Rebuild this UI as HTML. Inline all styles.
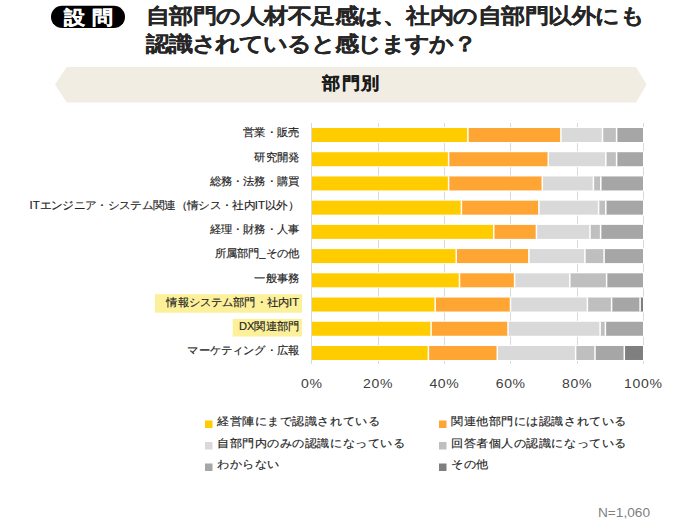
<!DOCTYPE html>
<html><head><meta charset="utf-8">
<style>
html,body{margin:0;padding:0;background:#fff;}
body{width:700px;height:525px;overflow:hidden;position:relative;font-family:"Liberation Sans",sans-serif;}
svg{position:absolute;left:0;top:0;}
.lbl{font-size:10.8px;fill:#222;stroke:#222;stroke-width:0.15px;}
.ax{font-size:13px;fill:#404040;}
.lg{font-size:11.5px;fill:#222;stroke:#222;stroke-width:0.15px;}
</style></head><body>
<svg width="700" height="525" viewBox="0 0 700 525" font-family="'Liberation Sans', sans-serif">
<rect x="51" y="5.7" width="74" height="22.4" rx="11.2" fill="#000"/>
<text transform="translate(64,24.3) scale(1.1,1)" font-size="19" font-weight="bold" fill="#fff" stroke="#fff" stroke-width="0.3" letter-spacing="6">設問</text>
<text transform="translate(146,23.0) scale(1.15,1)" font-size="20.5" font-weight="bold" fill="#262626" stroke="#262626" stroke-width="0.15" letter-spacing="0">自部門の人材不足感は、社内の自部門以外にも</text>
<text transform="translate(146,50.8) scale(1.15,1)" font-size="20.5" font-weight="bold" fill="#262626" stroke="#262626" stroke-width="0.15" letter-spacing="-0.6">認識されていると感じますか？</text>
<polygon points="55,84.5 66.6,67 636,67 646.6,84.5 636,102.5 66.6,102.5" fill="#f1ede3"/>
<text transform="translate(351.6,88.8) scale(1.07,1)" text-anchor="middle" font-size="17" font-weight="bold" fill="#1a1a1a" stroke="#1a1a1a" stroke-width="0.15" letter-spacing="1">部門別</text>
<line x1="378.5" y1="123" x2="378.5" y2="364" stroke="#d9d9d9" stroke-width="1"/>
<line x1="444.5" y1="123" x2="444.5" y2="364" stroke="#d9d9d9" stroke-width="1"/>
<line x1="510.5" y1="123" x2="510.5" y2="364" stroke="#d9d9d9" stroke-width="1"/>
<line x1="577.5" y1="123" x2="577.5" y2="364" stroke="#d9d9d9" stroke-width="1"/>
<line x1="643.5" y1="123" x2="643.5" y2="364" stroke="#d9d9d9" stroke-width="1"/>
<line x1="311.5" y1="123" x2="311.5" y2="364" stroke="#d9d9d9" stroke-width="1"/>
<rect x="155" y="294.2" width="147" height="18.5" fill="#fdf09b"/>
<rect x="232.7" y="318.9" width="69.3" height="17.6" fill="#fdf09b"/>
<rect x="312" y="127.00" width="332.5" height="16.0" fill="#fff"/>
<rect x="312.00" y="128.00" width="155.90" height="14.0" fill="#ffcc00"/>
<rect x="467.90" y="128.00" width="93.00" height="14.0" fill="#ffa533"/>
<rect x="560.90" y="128.00" width="41.60" height="14.0" fill="#d9d9d9"/>
<rect x="602.50" y="128.00" width="14.10" height="14.0" fill="#bfbfbf"/>
<rect x="616.60" y="128.00" width="26.40" height="14.0" fill="#a6a6a6"/>
<rect x="467.15" y="128.00" width="1.5" height="14.0" fill="#fff"/>
<rect x="560.15" y="128.00" width="1.5" height="14.0" fill="#fff"/>
<rect x="601.75" y="128.00" width="1.5" height="14.0" fill="#fff"/>
<rect x="615.85" y="128.00" width="1.5" height="14.0" fill="#fff"/>
<text class="lbl" transform="translate(299,136.30) scale(1.0300,1)" text-anchor="end">営業・販売</text>
<rect x="312" y="151.22" width="332.5" height="16.0" fill="#fff"/>
<rect x="312.00" y="152.22" width="136.60" height="14.0" fill="#ffcc00"/>
<rect x="448.60" y="152.22" width="99.70" height="14.0" fill="#ffa533"/>
<rect x="548.30" y="152.22" width="57.50" height="14.0" fill="#d9d9d9"/>
<rect x="605.80" y="152.22" width="10.80" height="14.0" fill="#bfbfbf"/>
<rect x="616.60" y="152.22" width="26.40" height="14.0" fill="#a6a6a6"/>
<rect x="447.85" y="152.22" width="1.5" height="14.0" fill="#fff"/>
<rect x="547.55" y="152.22" width="1.5" height="14.0" fill="#fff"/>
<rect x="605.05" y="152.22" width="1.5" height="14.0" fill="#fff"/>
<rect x="615.85" y="152.22" width="1.5" height="14.0" fill="#fff"/>
<text class="lbl" transform="translate(299,160.52) scale(1.0300,1)" text-anchor="end">研究開発</text>
<rect x="312" y="175.44" width="332.5" height="16.0" fill="#fff"/>
<rect x="312.00" y="176.44" width="136.60" height="14.0" fill="#ffcc00"/>
<rect x="448.60" y="176.44" width="93.70" height="14.0" fill="#ffa533"/>
<rect x="542.30" y="176.44" width="51.10" height="14.0" fill="#d9d9d9"/>
<rect x="593.40" y="176.44" width="7.40" height="14.0" fill="#bfbfbf"/>
<rect x="600.80" y="176.44" width="42.20" height="14.0" fill="#a6a6a6"/>
<rect x="447.85" y="176.44" width="1.5" height="14.0" fill="#fff"/>
<rect x="541.55" y="176.44" width="1.5" height="14.0" fill="#fff"/>
<rect x="592.65" y="176.44" width="1.5" height="14.0" fill="#fff"/>
<rect x="600.05" y="176.44" width="1.5" height="14.0" fill="#fff"/>
<text class="lbl" transform="translate(299,184.74) scale(1.0300,1)" text-anchor="end">総務・法務・購買</text>
<rect x="312" y="199.66" width="332.5" height="16.0" fill="#fff"/>
<rect x="312.00" y="200.66" width="149.40" height="14.0" fill="#ffcc00"/>
<rect x="461.40" y="200.66" width="77.50" height="14.0" fill="#ffa533"/>
<rect x="538.90" y="200.66" width="59.70" height="14.0" fill="#d9d9d9"/>
<rect x="598.60" y="200.66" width="7.20" height="14.0" fill="#bfbfbf"/>
<rect x="605.80" y="200.66" width="37.20" height="14.0" fill="#a6a6a6"/>
<rect x="460.65" y="200.66" width="1.5" height="14.0" fill="#fff"/>
<rect x="538.15" y="200.66" width="1.5" height="14.0" fill="#fff"/>
<rect x="597.85" y="200.66" width="1.5" height="14.0" fill="#fff"/>
<rect x="605.05" y="200.66" width="1.5" height="14.0" fill="#fff"/>
<text class="lbl" transform="translate(299,208.96) scale(1.0609,1)" text-anchor="end">ITエンジニア・システム関連（情シス・社内IT以外）</text>
<rect x="312" y="223.88" width="332.5" height="16.0" fill="#fff"/>
<rect x="312.00" y="224.88" width="181.75" height="14.0" fill="#ffcc00"/>
<rect x="493.75" y="224.88" width="42.70" height="14.0" fill="#ffa533"/>
<rect x="536.45" y="224.88" width="53.55" height="14.0" fill="#d9d9d9"/>
<rect x="590.00" y="224.88" width="10.60" height="14.0" fill="#bfbfbf"/>
<rect x="600.60" y="224.88" width="42.40" height="14.0" fill="#a6a6a6"/>
<rect x="493.00" y="224.88" width="1.5" height="14.0" fill="#fff"/>
<rect x="535.70" y="224.88" width="1.5" height="14.0" fill="#fff"/>
<rect x="589.25" y="224.88" width="1.5" height="14.0" fill="#fff"/>
<rect x="599.85" y="224.88" width="1.5" height="14.0" fill="#fff"/>
<text class="lbl" transform="translate(299,233.18) scale(1.0300,1)" text-anchor="end">経理・財務・人事</text>
<rect x="312" y="248.10" width="332.5" height="16.0" fill="#fff"/>
<rect x="312.00" y="249.10" width="144.25" height="14.0" fill="#ffcc00"/>
<rect x="456.25" y="249.10" width="72.65" height="14.0" fill="#ffa533"/>
<rect x="528.90" y="249.10" width="56.00" height="14.0" fill="#d9d9d9"/>
<rect x="584.90" y="249.10" width="19.20" height="14.0" fill="#bfbfbf"/>
<rect x="604.10" y="249.10" width="38.90" height="14.0" fill="#a6a6a6"/>
<rect x="455.50" y="249.10" width="1.5" height="14.0" fill="#fff"/>
<rect x="528.15" y="249.10" width="1.5" height="14.0" fill="#fff"/>
<rect x="584.15" y="249.10" width="1.5" height="14.0" fill="#fff"/>
<rect x="603.35" y="249.10" width="1.5" height="14.0" fill="#fff"/>
<text class="lbl" transform="translate(299,257.40) scale(1.0300,1)" text-anchor="end">所属部門_その他</text>
<rect x="312" y="272.32" width="332.5" height="16.0" fill="#fff"/>
<rect x="312.00" y="273.32" width="147.50" height="14.0" fill="#ffcc00"/>
<rect x="459.50" y="273.32" width="55.10" height="14.0" fill="#ffa533"/>
<rect x="514.60" y="273.32" width="55.20" height="14.0" fill="#d9d9d9"/>
<rect x="569.80" y="273.32" width="36.80" height="14.0" fill="#bfbfbf"/>
<rect x="606.60" y="273.32" width="36.40" height="14.0" fill="#a6a6a6"/>
<rect x="458.75" y="273.32" width="1.5" height="14.0" fill="#fff"/>
<rect x="513.85" y="273.32" width="1.5" height="14.0" fill="#fff"/>
<rect x="569.05" y="273.32" width="1.5" height="14.0" fill="#fff"/>
<rect x="605.85" y="273.32" width="1.5" height="14.0" fill="#fff"/>
<text class="lbl" transform="translate(299,281.62) scale(1.0300,1)" text-anchor="end">一般事務</text>
<rect x="312" y="296.54" width="332.5" height="16.0" fill="#fff"/>
<rect x="312.00" y="297.54" width="123.20" height="14.0" fill="#ffcc00"/>
<rect x="435.20" y="297.54" width="75.30" height="14.0" fill="#ffa533"/>
<rect x="510.50" y="297.54" width="76.90" height="14.0" fill="#d9d9d9"/>
<rect x="587.40" y="297.54" width="24.20" height="14.0" fill="#bfbfbf"/>
<rect x="611.60" y="297.54" width="28.50" height="14.0" fill="#a6a6a6"/>
<rect x="640.10" y="297.54" width="2.90" height="14.0" fill="#7f7f7f"/>
<rect x="434.45" y="297.54" width="1.5" height="14.0" fill="#fff"/>
<rect x="509.75" y="297.54" width="1.5" height="14.0" fill="#fff"/>
<rect x="586.65" y="297.54" width="1.5" height="14.0" fill="#fff"/>
<rect x="610.85" y="297.54" width="1.5" height="14.0" fill="#fff"/>
<rect x="639.35" y="297.54" width="1.5" height="14.0" fill="#fff"/>
<text class="lbl" transform="translate(299,305.84) scale(1.0300,1)" text-anchor="end">情報システム部門・社内IT</text>
<rect x="312" y="320.76" width="332.5" height="16.0" fill="#fff"/>
<rect x="312.00" y="321.76" width="119.10" height="14.0" fill="#ffcc00"/>
<rect x="431.10" y="321.76" width="76.90" height="14.0" fill="#ffa533"/>
<rect x="508.00" y="321.76" width="92.10" height="14.0" fill="#d9d9d9"/>
<rect x="600.10" y="321.76" width="5.30" height="14.0" fill="#bfbfbf"/>
<rect x="605.40" y="321.76" width="37.60" height="14.0" fill="#a6a6a6"/>
<rect x="430.35" y="321.76" width="1.5" height="14.0" fill="#fff"/>
<rect x="507.25" y="321.76" width="1.5" height="14.0" fill="#fff"/>
<rect x="599.35" y="321.76" width="1.5" height="14.0" fill="#fff"/>
<rect x="604.65" y="321.76" width="1.5" height="14.0" fill="#fff"/>
<text class="lbl" transform="translate(299,330.06) scale(1.0300,1)" text-anchor="end">DX関連部門</text>
<rect x="312" y="344.98" width="332.5" height="16.0" fill="#fff"/>
<rect x="312.00" y="345.98" width="116.40" height="14.0" fill="#ffcc00"/>
<rect x="428.40" y="345.98" width="68.90" height="14.0" fill="#ffa533"/>
<rect x="497.30" y="345.98" width="78.30" height="14.0" fill="#d9d9d9"/>
<rect x="575.60" y="345.98" width="19.40" height="14.0" fill="#bfbfbf"/>
<rect x="595.00" y="345.98" width="29.30" height="14.0" fill="#a6a6a6"/>
<rect x="624.30" y="345.98" width="18.70" height="14.0" fill="#7f7f7f"/>
<rect x="427.65" y="345.98" width="1.5" height="14.0" fill="#fff"/>
<rect x="496.55" y="345.98" width="1.5" height="14.0" fill="#fff"/>
<rect x="574.85" y="345.98" width="1.5" height="14.0" fill="#fff"/>
<rect x="594.25" y="345.98" width="1.5" height="14.0" fill="#fff"/>
<rect x="623.55" y="345.98" width="1.5" height="14.0" fill="#fff"/>
<text class="lbl" transform="translate(299,354.28) scale(1.0300,1)" text-anchor="end">マーケティング・広報</text>
<text class="ax" transform="translate(311.8,388) scale(1.08,1)" letter-spacing="0.6" text-anchor="middle">0%</text>
<text class="ax" transform="translate(378.1,388) scale(1.08,1)" letter-spacing="0.6" text-anchor="middle">20%</text>
<text class="ax" transform="translate(444.4,388) scale(1.08,1)" letter-spacing="0.6" text-anchor="middle">40%</text>
<text class="ax" transform="translate(510.7,388) scale(1.08,1)" letter-spacing="0.6" text-anchor="middle">60%</text>
<text class="ax" transform="translate(577.0,388) scale(1.08,1)" letter-spacing="0.6" text-anchor="middle">80%</text>
<text class="ax" transform="translate(643.3,388) scale(1.08,1)" letter-spacing="0.6" text-anchor="middle">100%</text>
<rect x="205" y="420.5" width="7.5" height="7.5" fill="#ffcc00"/>
<text class="lg" transform="translate(217,425.0) scale(1.1,1)">経営陣にまで認識されている</text>
<rect x="439" y="420.5" width="7.5" height="7.5" fill="#ffa533"/>
<text class="lg" transform="translate(451,425.0) scale(1.1,1)">関連他部門には認識されている</text>
<rect x="205" y="442" width="7.5" height="7.5" fill="#d9d9d9"/>
<text class="lg" transform="translate(217,446.5) scale(1.1,1)">自部門内のみの認識になっている</text>
<rect x="439" y="442" width="7.5" height="7.5" fill="#bfbfbf"/>
<text class="lg" transform="translate(451,446.5) scale(1.1,1)">回答者個人の認識になっている</text>
<rect x="205" y="463.5" width="7.5" height="7.5" fill="#a6a6a6"/>
<text class="lg" transform="translate(217,468.0) scale(1.1,1)">わからない</text>
<rect x="439" y="463.5" width="7.5" height="7.5" fill="#7f7f7f"/>
<text class="lg" transform="translate(451,468.0) scale(1.1,1)">その他</text>
<text transform="translate(650,517) scale(1.14,1)" text-anchor="end" font-size="12" fill="#7f7f7f">N=1,060</text>
</svg>
</body></html>
